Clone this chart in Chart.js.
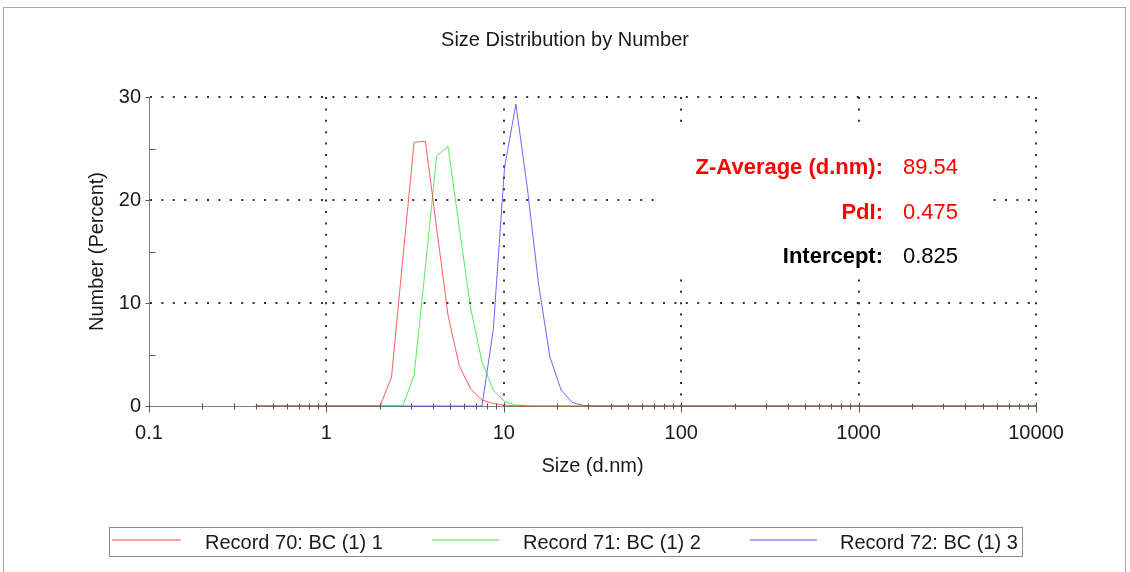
<!DOCTYPE html>
<html>
<head>
<meta charset="utf-8">
<script src="https://cdn.jsdelivr.net/npm/chart.js@4.4.1/dist/chart.umd.min.js"></script>
<style>
  html, body { margin: 0; padding: 0; background: #fff; }
  #wrap { width: 1130px; height: 572px; }
</style>
</head>
<body>
<div id="wrap"><canvas id="c" width="1130" height="572"></canvas></div>
<script>
// ---- Data ----
const sizes = [0.4, 0.4632, 0.5365, 0.6213, 0.7195, 0.8332, 0.9649, 1.117, 1.294, 1.499,
  1.736, 2.01, 2.328, 2.696, 3.122, 3.615, 4.187, 4.849, 5.615, 6.503,
  7.531, 8.721, 10.1, 11.7, 13.54, 15.69, 18.17, 21.04, 24.36, 28.21,
  32.67, 37.84, 43.82, 50.75, 58.77, 68.06, 78.82, 91.28, 105.7, 122.4,
  141.8, 164.2, 190.1, 220.2, 255.0, 295.3, 342.0, 396.1, 458.7, 531.2,
  615.1, 712.4, 825.0, 955.4, 1106, 1281, 1484, 1718, 1990, 2305,
  2669, 3091, 3580, 4145, 4801, 5560, 6439, 7456, 8635, 10000];

const record70 = [0,0,0,0,0,0,0,0,0,0,
  0,0,2.8,14.3,25.6,25.7,17.2,8.8,3.9,1.65,
  0.58,0.25,0.08,0.02,0,0,0,0,0,0,
  0,0,0,0,0,0,0,0,0,0, 0,0,0,0,0,0,0,0,0,0,
  0,0,0,0,0,0,0,0,0,0, 0,0,0,0,0,0,0,0,0,0];
const record71 = [0,0,0,0,0,0,0,0,0,0,
  0,0,0,0,3.0,13.5,24.3,25.2,17.3,9.5,
  4.3,1.55,0.42,0.1,0.02,0,0,0,0,0,
  0,0,0,0,0,0,0,0,0,0, 0,0,0,0,0,0,0,0,0,0,
  0,0,0,0,0,0,0,0,0,0, 0,0,0,0,0,0,0,0,0,0];
const record72 = [0,0,0,0,0,0,0,0,0,0,
  0,0,0,0,0,0,0,0,0,0,
  0,7.4,23.2,29.3,21.3,11.9,4.8,1.55,0.33,0.05,
  0,0,0,0,0,0,0,0,0,0, 0,0,0,0,0,0,0,0,0,0,
  0,0,0,0,0,0,0,0,0,0, 0,0,0,0,0,0,0,0,0,0];

const seriesLabels = ['Record 70: BC (1) 1', 'Record 71: BC (1) 2', 'Record 72: BC (1) 3'];
const xTickValues = [0.1, 1, 10, 100, 1000, 10000];
const xTickLabels = ['0.1', '1', '10', '100', '1000', '10000'];
const yTickValues = [0, 10, 20, 30];
const yMinorValues = [5, 15, 25];
const annoLabels = ['Z-Average (d.nm):', 'PdI:', 'Intercept:'];
const annoValues = ['89.54', '0.475', '0.825'];

const colors = ['rgba(255,40,40,0.75)', 'rgba(20,225,20,0.7)', 'rgba(40,40,255,0.7)'];
const legendColors = ['rgba(255,120,120,0.7)', 'rgba(90,235,90,0.6)', 'rgba(110,110,255,0.6)'];
const annoColors = ['#ff0000', '#ff0000', '#000000'];
const FONT = '"Liberation Sans", Arial, Helvetica, sans-serif';

const toXY = vals => sizes.map((s, i) => ({ x: s, y: vals[i] }));

const bgPlugin = {
  id: 'bg',
  beforeDraw(chart) {
    const ctx = chart.ctx;
    ctx.save();
    ctx.fillStyle = '#fff';
    ctx.fillRect(0, 0, chart.width, chart.height);
    ctx.strokeStyle = '#a8a8a8';
    ctx.lineWidth = 1;
    ctx.strokeRect(3.5, 7.5, 1122, 580);
    ctx.restore();
  },
  beforeDatasetsDraw(chart) {
    // white panel behind the statistics text (interrupts grid)
    const ctx = chart.ctx;
    ctx.save();
    ctx.fillStyle = '#fff';
    ctx.fillRect(656, 124, 334, 153);
    ctx.restore();
  },
  afterDraw(chart) {
    const ctx = chart.ctx;
    const { x, y } = chart.scales;
    ctx.save();
    // tick marks
    ctx.strokeStyle = '#555';
    ctx.lineWidth = 1;
    const y0 = Math.round(y.getPixelForValue(0)) + 0.5;
    for (let e = -1; e <= 4; e++) {
      for (let m = 1; m <= 9; m++) {
        const v = m * Math.pow(10, e);
        if (v > 10000.0001) break;
        const px = Math.round(x.getPixelForValue(v)) + 0.5;
        const major = m === 1;
        ctx.beginPath();
        ctx.moveTo(px, y0 - (major ? 4 : 3));
        ctx.lineTo(px, y0 + (major ? 6 : 3));
        ctx.stroke();
      }
    }
    const xl = Math.round(x.left) + 0.5;
    yTickValues.forEach(v => {
      const py = Math.round(y.getPixelForValue(v)) + 0.5;
      ctx.beginPath(); ctx.moveTo(xl - 4, py); ctx.lineTo(xl, py); ctx.stroke();
    });
    yMinorValues.forEach(v => {
      const py = Math.round(y.getPixelForValue(v)) + 0.5;
      ctx.beginPath(); ctx.moveTo(xl, py); ctx.lineTo(xl + 6, py); ctx.stroke();
    });

    // statistics annotation
    const rows = [168, 213, 257];
    ctx.textBaseline = 'middle';
    rows.forEach((ry, i) => {
      ctx.fillStyle = annoColors[i];
      ctx.font = 'bold 22px ' + FONT;
      ctx.textAlign = 'right';
      ctx.fillText(annoLabels[i], 883, ry);
      ctx.font = '22px ' + FONT;
      ctx.textAlign = 'left';
      ctx.fillText(annoValues[i], 903, ry);
    });

    // legend box
    ctx.strokeStyle = '#8a8a8a';
    ctx.lineWidth = 1;
    ctx.strokeRect(109.5, 527.5, 913, 29);
    const samples = [[112, 181, 205], [432, 499, 523], [750, 817, 840]];
    ctx.font = '20px ' + FONT;
    ctx.textAlign = 'left';
    ctx.textBaseline = 'middle';
    samples.forEach((s, i) => {
      ctx.strokeStyle = legendColors[i];
      ctx.lineWidth = 2;
      ctx.beginPath(); ctx.moveTo(s[0], 540); ctx.lineTo(s[1], 540); ctx.stroke();
      ctx.fillStyle = '#1a1a1a';
      ctx.fillText(chart.data.datasets[i].label, s[2], 543);
    });
    ctx.restore();
  }
};

new Chart(document.getElementById('c'), {
  type: 'line',
  data: {
    datasets: [
      { label: seriesLabels[0], data: toXY(record70), borderColor: colors[0] },
      { label: seriesLabels[1], data: toXY(record71), borderColor: colors[1] },
      { label: seriesLabels[2], data: toXY(record72), borderColor: colors[2] }
    ]
  },
  options: {
    responsive: false,
    animation: false,
    elements: {
      line: { borderWidth: 1, tension: 0, fill: false },
      point: { radius: 0, hoverRadius: 0 }
    },
    datasets: { line: { clip: false } },
    layout: { padding: { left: 0, right: 0, top: 0, bottom: 86 } },
    plugins: {
      legend: { display: false },
      tooltip: { enabled: false },
      title: {
        display: true,
        text: 'Size Distribution by Number',
        color: '#1a1a1a',
        font: { family: FONT, size: 20, weight: 'normal' },
        padding: { top: 28, bottom: 45 }
      }
    },
    scales: {
      x: {
        type: 'logarithmic',
        min: 0.1,
        max: 10000,
        afterBuildTicks: s => { s.ticks = xTickValues.map(v => ({ value: v, major: true })); },
        afterFit: s => { s.height = 80; },
        ticks: {
          autoSkip: false,
          maxRotation: 0,
          padding: 15,
          color: '#1a1a1a',
          font: { family: FONT, size: 20 },
          callback: (v, i) => xTickLabels[i]
        },
        grid: {
          drawTicks: false,
          lineWidth: 2,
          color: c => (c.tick && c.tick.value === 0.1) ? 'rgba(0,0,0,0)' : '#333'
        },
        border: { display: true, color: '#808080', width: 1, dash: [2, 9.4] },
        title: {
          display: true,
          text: 'Size (d.nm)',
          color: '#1a1a1a',
          font: { family: FONT, size: 20 },
          padding: { top: 0, bottom: 8 }
        }
      },
      y: {
        type: 'linear',
        min: 0,
        max: 30,
        afterBuildTicks: s => { s.ticks = yTickValues.map(v => ({ value: v })); },
        afterFit: s => { s.width = 149; },
        ticks: {
          padding: 8,
          color: '#1a1a1a',
          font: { family: FONT, size: 20 },
          callback: v => String(v)
        },
        grid: {
          drawTicks: false,
          lineWidth: 2,
          color: c => (c.tick && c.tick.value === 0) ? 'rgba(0,0,0,0)' : '#333'
        },
        border: { display: true, color: '#808080', width: 1, dash: [2, 9.4] },
        title: {
          display: true,
          text: 'Number (Percent)',
          color: '#1a1a1a',
          font: { family: FONT, size: 20 },
          padding: { top: 85, bottom: 0 }
        }
      },
      yRight: {
        type: 'linear',
        position: 'right',
        min: 0,
        max: 30,
        afterFit: s => { s.width = 94; },
        ticks: { display: false },
        grid: { display: false, drawTicks: false },
        border: { display: false },
        title: { display: false }
      }
    }
  },
  plugins: [bgPlugin]
});
</script>
</body>
</html>
